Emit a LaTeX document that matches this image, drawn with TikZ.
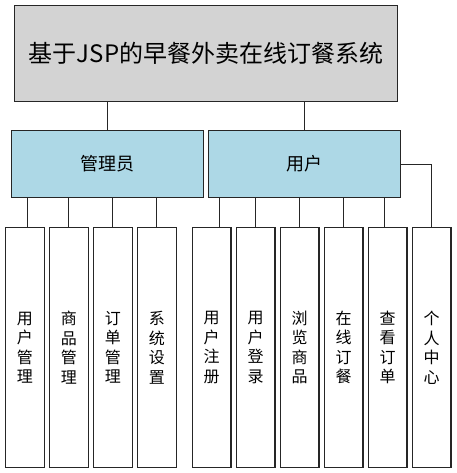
\documentclass[tikz,border=0pt]{standalone}
\usepackage{fontspec}
\setmainfont{Noto Sans CJK SC}
\definecolor{titlegray}{HTML}{D3D3D3}
\definecolor{roleblue}{HTML}{ADD8E6}
\definecolor{edge}{HTML}{262626}
\begin{document}
\begin{tikzpicture}[x=1pt,y=-1pt,
  box/.style={draw=edge, line width=1.1pt, inner sep=0pt, anchor=north west},
  titlebox/.style={box, fill=titlegray, minimum width=383pt, minimum height=96pt, font=\fontsize{24}{28}\selectfont},
  rolebox/.style={box, fill=roleblue, minimum width=192pt, minimum height=67pt, font=\fontsize{18}{22}\selectfont},
  leafbox/.style={box, fill=white, minimum width=38.7pt, minimum height=240pt, align=center, font=\fontsize{16}{19.5}\selectfont},
  link/.style={draw=edge, line width=1.1pt}]
\useasboundingbox (0,0) rectangle (456,473);
\node[titlebox] (sys) at (14,5) {基于JSP的早餐外卖在线订餐系统};
\node[rolebox] (admin) at (11,130) {管理员};
\node[rolebox] (user) at (208,130) {用户};
\node[leafbox] (a1) at (5,227) {用\\户\\管\\理};
\node[leafbox] (a2) at (49,227) {商\\品\\管\\理};
\node[leafbox] (a3) at (93,227) {订\\单\\管\\理};
\node[leafbox] (a4) at (137,227) {系\\统\\设\\置};
\node[leafbox] (u1) at (191.7,227) {用\\户\\注\\册};
\node[leafbox] (u2) at (235.7,227) {用\\户\\登\\录};
\node[leafbox] (u3) at (279.7,227) {浏\\览\\商\\品};
\node[leafbox] (u4) at (323.7,227) {在\\线\\订\\餐};
\node[leafbox] (u5) at (367.7,227) {查\\看\\订\\单};
\node[leafbox] (u6) at (411.7,227) {个\\人\\中\\心};
\draw[link] (admin.north) -- (admin.north |- sys.south);
\draw[link] (user.north) -- (user.north |- sys.south);
\draw[link] ([xshift=3pt]a1.north) -- ([xshift=3pt]a1.north |- admin.south);
\draw[link] (a2.north) -- (a2.north |- admin.south);
\draw[link] (a3.north) -- (a3.north |- admin.south);
\draw[link] (a4.north) -- (a4.north |- admin.south);
\draw[link] ([xshift=8pt]u1.north) -- ([xshift=8pt]u1.north |- user.south);
\draw[link] (u2.north) -- (u2.north |- user.south);
\draw[link] (u3.north) -- (u3.north |- user.south);
\draw[link] (u4.north) -- (u4.north |- user.south);
\draw[link] ([xshift=-3pt]u5.north) -- ([xshift=-3pt]u5.north |- user.south);
\draw[link] (user.east) -| (u6.north);
\end{tikzpicture}
\end{document}
